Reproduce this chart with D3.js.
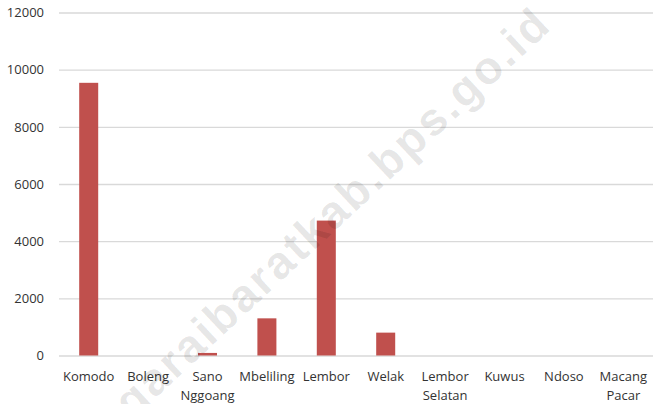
<!DOCTYPE html>
<html>
<head>
<meta charset="utf-8">
<script src="https://cdn.jsdelivr.net/npm/d3@7"></script>
<style>
  body { margin: 0; background: #fff; }
  text { font-family: "Open Sans", sans-serif; }
</style>
</head>
<body>
<script>
const kecamatan = ["Komodo", "Boleng", "Sano Nggoang", "Mbeliling", "Lembor", "Welak", "Lembor Selatan", "Kuwus", "Ndoso", "Macang Pacar"];
const nilai = [9540, 0, 90, 1300, 4720, 800, 0, 0, 0, 0];
const yTicks = [0, 2000, 4000, 6000, 8000, 10000, 12000];
const watermark = "manggaraibaratkab.bps.go.id";

function main(){
    const width = 653;
    const height = 404;

    const svg = d3.select("body").append("svg")
        .attr("width", width)
        .attr("height", height);

    const x = d3.scaleBand()
        .domain(kecamatan)
        .range([59, 653])
        .paddingInner(0.68)
        .paddingOuter(0.34);

    const y = d3.scaleLinear()
        .domain([0, 12000])
        .range([355.5, 12.5]);

    // gridlines + y labels
    const yAxis = svg.append("g")
        .attr("transform", "translate(59,0)")
        .call(d3.axisLeft(y).tickValues(yTicks).tickSize(-594).tickPadding(15).tickFormat(d3.format("d")));
    yAxis.select(".domain").remove();
    yAxis.selectAll("line").attr("stroke", "#d9d9d9").attr("stroke-width", 1.3);
    yAxis.selectAll("text").attr("fill", "#333").style("font-size", "13px");

    svg.selectAll(".bar")
        .data(nilai)
        .enter().append("rect")
        .attr("class", "bar")
        .attr("x", function(d, i){ return x(kecamatan[i]); })
        .attr("width", x.bandwidth())
        .attr("y", function(d){ return y(d); })
        .attr("height", function(d){ return y(0) - y(d); })
        .attr("fill", "#c0504d");

    // x labels, wrapped on space
    const xl = svg.append("g");
    kecamatan.forEach(function(k){
        const t = xl.append("text")
            .attr("x", x(k) + x.bandwidth()/2)
            .attr("y", 381)
            .attr("text-anchor", "middle")
            .attr("fill", "#333")
            .style("font-size", "13px");
        k.split(" ").forEach(function(w, j){
            t.append("tspan")
                .attr("x", x(k) + x.bandwidth()/2)
                .attr("dy", j == 0 ? 0 : 19)
                .text(w);
        });
    });

    // watermark
    svg.append("text")
        .attr("transform", "translate(286,260) rotate(-43)")
        .attr("text-anchor", "middle")
        .attr("dominant-baseline", "middle")
        .attr("fill", "#000")
        .attr("fill-opacity", 0.1)
        .style("font-family", "'Liberation Sans', Arial, sans-serif")
        .style("font-weight", "bold")
        .style("font-size", "46px")
        .style("letter-spacing", "2.5px")
        .text(watermark);
}
main();
</script>
</body>
</html>
